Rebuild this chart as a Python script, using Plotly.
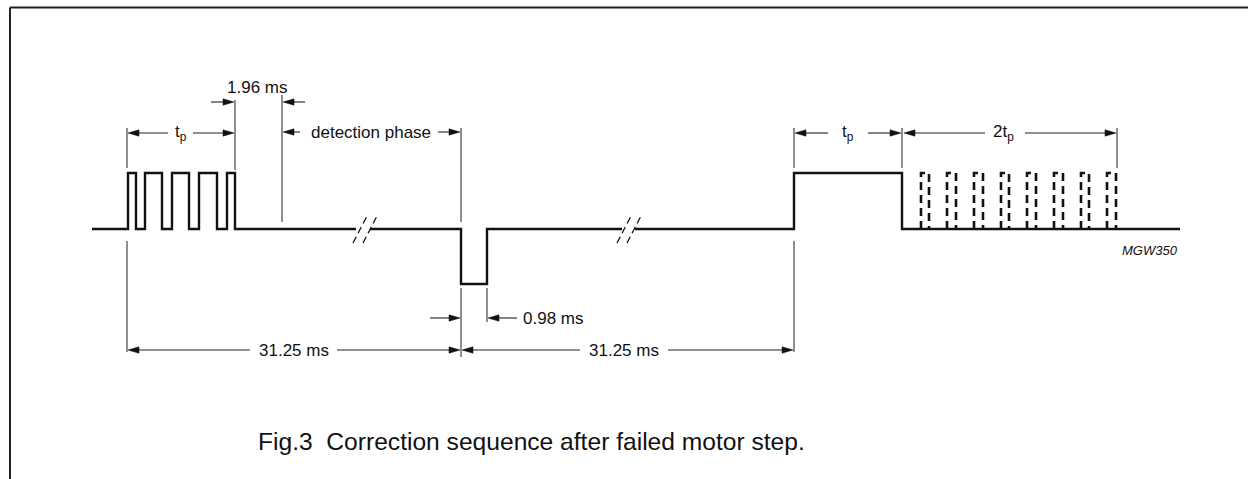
import plotly.graph_objects as go

# ---------------- data (diagram units, time axis left->right) ----------------
BASE, HIGH, LOW = 229, 173, 284
sig_start, sig_end = 92, 1180
burst_rise = [128, 145, 172, 199, 227]
burst_fall = [136, 162, 189, 217, 235]
break1 = [356, 370]
break2 = [622, 635]
neg_pulse = [461, 487]
long_pulse = [794, 902]
dashed_rise = [921, 947, 974, 1001, 1027, 1054, 1081, 1107]
dashed_fall = [929, 956, 983, 1009, 1036, 1063, 1089, 1116]

# break marks (two slashes each): x at bottom
slash_x0 = [353, 363, 617, 627]
slash_dx, slash_y0, slash_y1 = 15, 243, 214

# extension (witness) lines: x, y_from, y_to
ext_x = [127, 127, 235, 282, 461, 461, 487, 794, 794, 902, 1117]
ext_y0 = [128, 241, 100, 95, 128, 288, 288, 128, 241, 128, 128]
ext_y1 = [168, 352, 170, 222, 222, 357, 322, 168, 352, 168, 168]

# dimension arrows: y, tail x, tip x
arr_y = [102, 102, 133, 133, 132, 132, 318, 318, 350, 350, 350, 350, 133, 133, 133, 133]
arr_tail = [211, 305, 168, 193, 300, 438, 430, 517, 250, 337, 580, 668, 828, 868, 985, 1025]
arr_tip = [234, 283, 128, 234, 283, 460, 460, 488, 128, 460, 462, 793, 795, 901, 904, 1116]

# labels
lab_text = ["1.96 ms", "t<sub>p</sub>", "detection phase", "0.98 ms", "31.25 ms", "31.25 ms",
            "t<sub>p</sub>", "2t<sub>p</sub>"]
lab_x = [257, 181, 371, 553, 294, 624, 848, 1003]
lab_y = [87, 133, 132, 318, 350, 350, 133, 133]
fig_label = "MGW350"
caption = "Fig.3\u00a0\u00a0Correction sequence after failed motor step."

FONT = "Liberation Sans, Arial, Helvetica, sans-serif"

fig = go.Figure()

# ---------------- main solid signal ----------------
sx, sy = [sig_start], [BASE]
for r, f in zip(burst_rise, burst_fall):
    sx += [r, r, f, f]
    sy += [BASE, HIGH, HIGH, BASE]
sx += [break1[0], None, break1[1]]
sy += [BASE, None, BASE]
sx += [neg_pulse[0], neg_pulse[0], neg_pulse[1], neg_pulse[1]]
sy += [BASE, LOW, LOW, BASE]
sx += [break2[0], None, break2[1]]
sy += [BASE, None, BASE]
sx += [long_pulse[0], long_pulse[0], long_pulse[1], long_pulse[1], sig_end]
sy += [BASE, HIGH, HIGH, BASE, BASE]
fig.add_trace(go.Scatter(x=sx, y=sy, mode="lines",
                         line=dict(color="#111111", width=2.4), hoverinfo="skip"))

# ---------------- dashed pulses ----------------
dx, dy = [], []
for r, f in zip(dashed_rise, dashed_fall):
    dx += [r, r, f, f, None]
    dy += [BASE, HIGH, HIGH, BASE, None]
fig.add_trace(go.Scatter(x=dx, y=dy, mode="lines",
                         line=dict(color="#111111", width=2.6, dash="8px,5px"),
                         hoverinfo="skip"))

# ---------------- break slashes ----------------
bx, by = [], []
for x0 in slash_x0:
    bx += [x0, x0 + slash_dx, None]
    by += [slash_y0, slash_y1, None]
fig.add_trace(go.Scatter(x=bx, y=by, mode="lines",
                         line=dict(color="#111111", width=1.3, dash="7px,4px"),
                         hoverinfo="skip"))

# ---------------- witness lines ----------------
wx, wy = [], []
for x, a, b in zip(ext_x, ext_y0, ext_y1):
    wx += [x, x, None]
    wy += [a, b, None]
fig.add_trace(go.Scatter(x=wx, y=wy, mode="lines",
                         line=dict(color="#333333", width=1.1), hoverinfo="skip"))

# ---------------- arrows ----------------
AL, AH = 11, 3.2
lx, ly, tx, ty = [], [], [], []
for y, t0, t1 in zip(arr_y, arr_tail, arr_tip):
    d = 1 if t1 > t0 else -1
    lx += [t0, t1 - d * AL * 0.5, None]
    ly += [y, y, None]
    tx += [t1, t1 - d * AL, t1 - d * AL, t1, None]
    ty += [y, y - AH, y + AH, y, None]
fig.add_trace(go.Scatter(x=lx, y=ly, mode="lines",
                         line=dict(color="#222222", width=1.1), hoverinfo="skip"))
fig.add_trace(go.Scatter(x=tx, y=ty, mode="lines", fill="toself", fillcolor="#111111",
                         line=dict(color="#111111", width=0.5), hoverinfo="skip"))

# ---------------- labels ----------------
for t, x, y in zip(lab_text, lab_x, lab_y):
    fig.add_annotation(x=x, y=y, xref="x", yref="y", text=t, showarrow=False,
                       font=dict(family=FONT, size=17, color="#111111"),
                       xanchor="center", yanchor="middle")
fig.add_annotation(x=1150, y=250, xref="x", yref="y", text="<i>" + fig_label + "</i>",
                   showarrow=False, font=dict(family=FONT, size=13, color="#111111"),
                   xanchor="center", yanchor="middle")
fig.add_annotation(x=531, y=441, xref="x", yref="y", text=caption, showarrow=False,
                   font=dict(family=FONT, size=24.6, color="#111111"),
                   xanchor="center", yanchor="middle")

# ---------------- frame (top and left border) ----------------
fig.add_shape(type="line", x0=10, x1=1248, y0=7.5, y1=7.5, xref="x", yref="y",
              line=dict(color="#222222", width=2))
fig.add_shape(type="line", x0=10, x1=10, y0=7.5, y1=479, xref="x", yref="y",
              line=dict(color="#222222", width=2))

fig.update_layout(
    width=1248, height=479, autosize=False,
    margin=dict(l=0, r=0, t=0, b=0, pad=0),
    paper_bgcolor="white", plot_bgcolor="white",
    showlegend=False,
    xaxis=dict(range=[0, 1248], visible=False, fixedrange=True),
    yaxis=dict(range=[479, 0], visible=False, fixedrange=True),
)

fig.write_html("out.html", config={"displayModeBar": False},
               post_script="document.body.style.margin='0';")
